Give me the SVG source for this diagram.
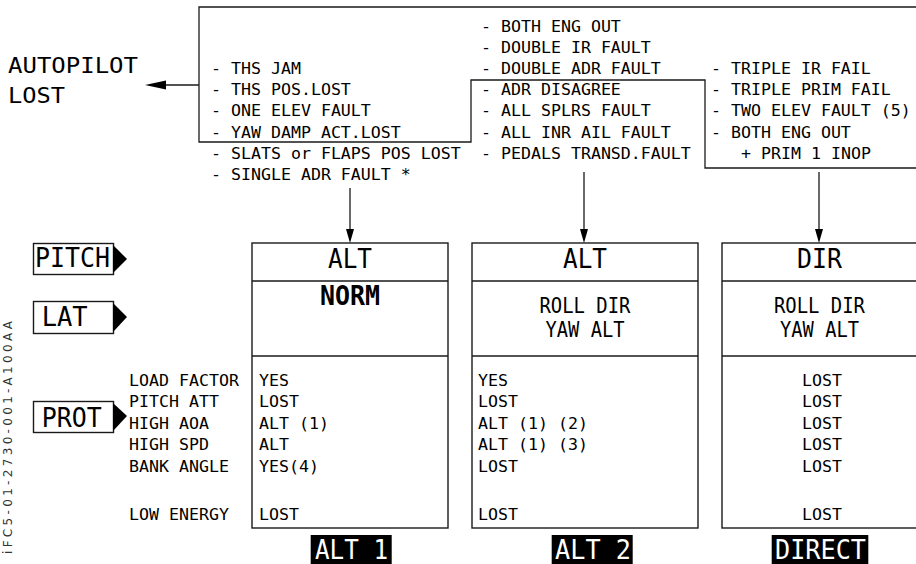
<svg xmlns="http://www.w3.org/2000/svg" width="916" height="564" viewBox="0 0 916 564">
<style>
  text { font-family: "DejaVu Sans Mono", "Liberation Mono", monospace; fill: #000; }
  .s { font-size: 16.6px; }
  .hdr { font-size: 26px; text-anchor: middle; }
  .mid { font-size: 20.5px; text-anchor: middle; }
  .lbl { font-size: 27px; fill: #fff; }
  .line { fill: none; stroke: #1a1a1a; stroke-width: 1.3; }
  .box { fill: #fff; stroke: #1a1a1a; stroke-width: 1.4; }
  .tag { fill: #fff; stroke: #1a1a1a; stroke-width: 1.4; }
  .blk { fill: #000; }
  .ref { font-family: "DejaVu Sans", sans-serif; font-size: 12px; fill: #333; }
</style>
<rect width="916" height="564" fill="#fff"/>

<g id="conditions">
  <polyline class="line" points="916,7 199,7 199,142 471,142 471,80 705,80 705,168 916,168"/>
  <g id="cond-alt1">
    <text class="s" x="211" y="74">- THS JAM</text>
    <text class="s" x="211" y="95.2">- THS POS.LOST</text>
    <text class="s" x="211" y="116.4">- ONE ELEV FAULT</text>
    <text class="s" x="211" y="137.6">- YAW DAMP ACT.LOST</text>
    <text class="s" x="211" y="158.8">- SLATS or FLAPS POS LOST</text>
    <text class="s" x="211" y="180">- SINGLE ADR FAULT *</text>
  </g>
  <g id="cond-alt2">
    <text class="s" x="481" y="31.6">- BOTH ENG OUT</text>
    <text class="s" x="481" y="52.8">- DOUBLE IR FAULT</text>
    <text class="s" x="481" y="74">- DOUBLE ADR FAULT</text>
    <text class="s" x="481" y="95.2">- ADR DISAGREE</text>
    <text class="s" x="481" y="116.4">- ALL SPLRS FAULT</text>
    <text class="s" x="481" y="137.6">- ALL INR AIL FAULT</text>
    <text class="s" x="481" y="158.8">- PEDALS TRANSD.FAULT</text>
  </g>
  <g id="cond-direct">
    <text class="s" x="711" y="74">- TRIPLE IR FAIL</text>
    <text class="s" x="711" y="95.2">- TRIPLE PRIM FAIL</text>
    <text class="s" x="711" y="116.4">- TWO ELEV FAULT (5)</text>
    <text class="s" x="711" y="137.6">- BOTH ENG OUT</text>
    <text class="s" x="741" y="158.8">+ PRIM 1 INOP</text>
  </g>
</g>

<g id="autopilot-lost">
  <text x="8" y="73" style="font-size:22px" textLength="130" lengthAdjust="spacingAndGlyphs">AUTOPILOT</text>
  <text x="8" y="103" style="font-size:22px" textLength="57" lengthAdjust="spacingAndGlyphs">LOST</text>
</g>

<g id="connectors">
  <line class="line" x1="199" y1="85" x2="160" y2="85"/>
  <polygon class="blk" points="145,85 166,80.5 166,89.5"/>
  <line class="line" x1="350" y1="188" x2="350" y2="232"/>
  <polygon class="blk" points="346,229 354,229 350,243"/>
  <line class="line" x1="584" y1="172" x2="584" y2="232"/>
  <polygon class="blk" points="580,229 588,229 584,243"/>
  <line class="line" x1="819" y1="172" x2="819" y2="232"/>
  <polygon class="blk" points="815,229 823,229 819,243"/>
</g>

<g id="tag-pitch">
  <rect class="tag" x="33.5" y="243.5" width="80" height="31"/>
  <polygon class="blk" points="113,245 127,259 113,273"/>
  <text x="35" y="267.3" style="font-size:27px" textLength="75" lengthAdjust="spacingAndGlyphs">PITCH</text>
</g>
<g id="tag-lat">
  <rect class="tag" x="33.5" y="301.5" width="80" height="32"/>
  <polygon class="blk" points="113,303 127,317 113,332"/>
  <text x="41.7" y="326" style="font-size:26.5px" textLength="46" lengthAdjust="spacingAndGlyphs">LAT</text>
</g>
<g id="tag-prot">
  <rect class="tag" x="33.5" y="401.5" width="80" height="31"/>
  <polygon class="blk" points="113,403 127,416 113,431"/>
  <text x="41.7" y="426.7" style="font-size:27px" textLength="60" lengthAdjust="spacingAndGlyphs">PROT</text>
</g>

<g id="prot-labels">
  <text class="s" x="129" y="385.5">LOAD FACTOR</text>
  <text class="s" x="129" y="407">PITCH ATT</text>
  <text class="s" x="129" y="428.5">HIGH AOA</text>
  <text class="s" x="129" y="450">HIGH SPD</text>
  <text class="s" x="129" y="471.5">BANK ANGLE</text>
  <text class="s" x="129" y="519.5">LOW ENERGY</text>
</g>

<g id="box-alt1">
  <rect class="box" x="252" y="243" width="196" height="285"/>
  <line class="line" x1="252" y1="281" x2="448" y2="281"/>
  <line class="line" x1="252" y1="356" x2="448" y2="356"/>
  <text class="hdr" x="350" y="268" textLength="44" lengthAdjust="spacingAndGlyphs">ALT</text>
  <text x="320" y="305" style="font-size:27px;font-weight:bold" textLength="60" lengthAdjust="spacingAndGlyphs">NORM</text>
  <text class="s" x="259" y="385.5">YES</text>
  <text class="s" x="259" y="407">LOST</text>
  <text class="s" x="259" y="428.5">ALT (1)</text>
  <text class="s" x="259" y="450">ALT</text>
  <text class="s" x="259" y="471.5">YES(4)</text>
  <text class="s" x="259" y="519.5">LOST</text>
</g>

<g id="box-alt2">
  <rect class="box" x="472" y="243" width="226" height="285"/>
  <line class="line" x1="472" y1="281" x2="698" y2="281"/>
  <line class="line" x1="472" y1="356" x2="698" y2="356"/>
  <text class="hdr" x="585" y="268" textLength="44" lengthAdjust="spacingAndGlyphs">ALT</text>
  <text class="mid" x="585" y="313" textLength="91" lengthAdjust="spacingAndGlyphs">ROLL DIR</text>
  <text class="mid" x="585" y="337" textLength="79" lengthAdjust="spacingAndGlyphs">YAW ALT</text>
  <text class="s" x="478" y="385.5">YES</text>
  <text class="s" x="478" y="407">LOST</text>
  <text class="s" x="478" y="428.5">ALT (1) (2)</text>
  <text class="s" x="478" y="450">ALT (1) (3)</text>
  <text class="s" x="478" y="471.5">LOST</text>
  <text class="s" x="478" y="519.5">LOST</text>
</g>

<g id="box-direct">
  <rect class="box" x="722" y="243" width="220" height="285"/>
  <line class="line" x1="722" y1="281" x2="916" y2="281"/>
  <line class="line" x1="722" y1="356" x2="916" y2="356"/>
  <text class="hdr" x="819.5" y="268" textLength="45" lengthAdjust="spacingAndGlyphs">DIR</text>
  <text class="mid" x="819.5" y="313" textLength="91" lengthAdjust="spacingAndGlyphs">ROLL DIR</text>
  <text class="mid" x="819.5" y="337" textLength="79" lengthAdjust="spacingAndGlyphs">YAW ALT</text>
  <g style="text-anchor:middle">
    <text class="s" x="822" y="385.5">LOST</text>
    <text class="s" x="822" y="407">LOST</text>
    <text class="s" x="822" y="428.5">LOST</text>
    <text class="s" x="822" y="450">LOST</text>
    <text class="s" x="822" y="471.5">LOST</text>
    <text class="s" x="822" y="519.5">LOST</text>
  </g>
</g>

<g id="label-alt1">
  <rect class="blk" x="310.7" y="535" width="81" height="30"/>
  <text class="lbl" x="315" y="559" textLength="73" lengthAdjust="spacingAndGlyphs">ALT 1</text>
</g>
<g id="label-alt2">
  <rect class="blk" x="551.7" y="535" width="81" height="30"/>
  <text class="lbl" x="555" y="559" textLength="76" lengthAdjust="spacingAndGlyphs">ALT 2</text>
</g>
<g id="label-direct">
  <rect class="blk" x="771.7" y="535" width="96.6" height="30"/>
  <text class="lbl" x="775" y="559" textLength="91" lengthAdjust="spacingAndGlyphs">DIRECT</text>
</g>

<text class="ref" transform="translate(12,554) rotate(-90)" textLength="233" lengthAdjust="spacing">iFC5-01-2730-001-A100AA</text>
</svg>
